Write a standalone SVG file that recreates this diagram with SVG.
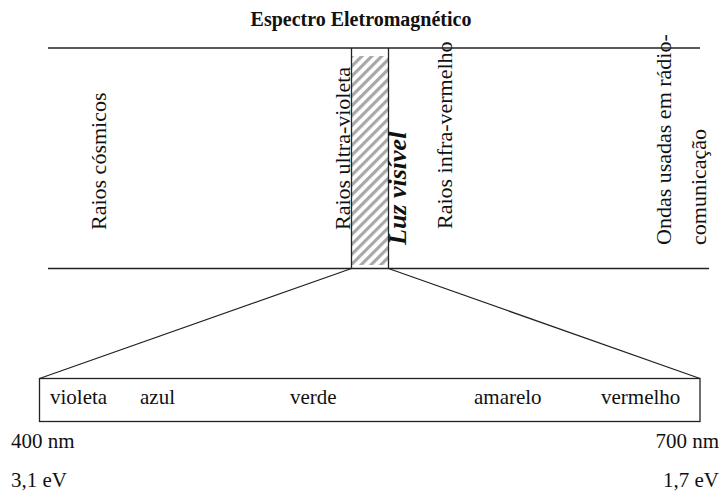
<svg xmlns="http://www.w3.org/2000/svg" width="721" height="492" viewBox="0 0 721 492">
  <style>
    .ln { stroke: #222; stroke-width: 1.3; fill: none; }
    text { font-family: "Liberation Serif", "Times New Roman", serif; fill: #111; }
    .lbl { font-size: 22px; }
    .sm { font-size: 21px; }
    .title { font-size: 20px; font-weight: bold; }
    .vis { font-size: 26px; font-style: italic; font-weight: bold; }
  </style>
  <defs>
    <pattern id="hatch" patternUnits="userSpaceOnUse" width="7" height="7" patternTransform="rotate(45)">
      <rect x="0" y="0" width="3.2" height="7" fill="#a8a8a8"/>
    </pattern>
    <filter id="soft" x="-5%" y="-5%" width="110%" height="110%">
      <feGaussianBlur stdDeviation="0.6"/>
    </filter>
  </defs>
  <rect width="721" height="492" fill="#fff"/>

  <g id="title" font-family="Liberation Serif, serif">
    <text class="title" x="361" y="26" text-anchor="middle">Espectro Eletromagnético</text>
  </g>

  <g id="spectrum-band">
    <line class="ln" x1="48" y1="48" x2="700" y2="48"/>
    <line class="ln" x1="48" y1="268.5" x2="709" y2="268.5"/>
  </g>

  <g id="visible-band">
    <rect x="352" y="56" width="36" height="209" fill="url(#hatch)" filter="url(#soft)"/>
    <line class="ln" x1="351.5" y1="48" x2="351.5" y2="268.5"/>
    <line class="ln" x1="388.5" y1="48" x2="388.5" y2="268.5"/>
  </g>

  <g id="band-labels" font-family="Liberation Serif, serif">
    <text class="lbl" transform="translate(106,230) rotate(-90)">Raios cósmicos</text>
    <text class="lbl" transform="translate(350,230) rotate(-90)">Raios ultra-violeta</text>
    <text class="vis" transform="translate(406,245) rotate(-90)">Luz visível</text>
    <text class="lbl" transform="translate(452,229) rotate(-90)">Raios infra-vermelho</text>
    <text class="lbl" transform="translate(671,245) rotate(-90)">Ondas usadas em rádio-</text>
    <text class="lbl" transform="translate(706,245) rotate(-90)">comunicação</text>
  </g>

  <g id="connectors">
    <line class="ln" x1="351.5" y1="268.5" x2="39.5" y2="378.5"/>
    <line class="ln" x1="388.5" y1="268.5" x2="700" y2="378.5"/>
  </g>

  <g id="visible-box" font-family="Liberation Serif, serif">
    <rect class="ln" x="39.5" y="378.5" width="660.5" height="43"/>
    <text class="sm" x="50" y="404">violeta</text>
    <text class="sm" x="140" y="404">azul</text>
    <text class="sm" x="290" y="404">verde</text>
    <text class="sm" x="474" y="404">amarelo</text>
    <text class="sm" x="601" y="404">vermelho</text>
  </g>

  <g id="scale" font-family="Liberation Serif, serif">
    <text class="sm" x="11" y="448">400 nm</text>
    <text class="sm" x="719" y="448" text-anchor="end">700 nm</text>
    <text class="sm" x="11" y="487">3,1 eV</text>
    <text class="sm" x="719" y="487" text-anchor="end">1,7 eV</text>
  </g>
</svg>
